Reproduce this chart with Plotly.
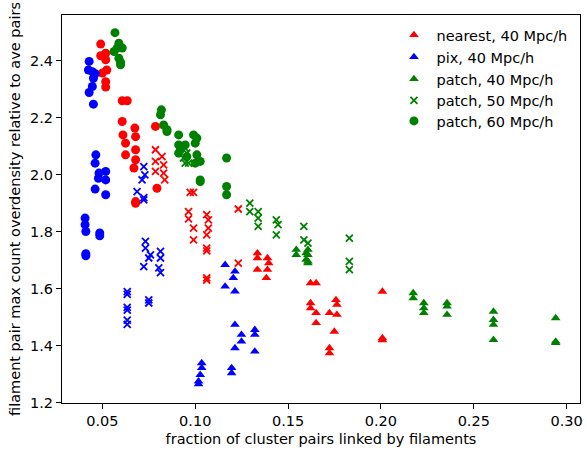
import plotly.graph_objects as go

# fraction of cluster pairs linked by filaments (x) vs. max count overdensity (y)
nearest40_x = [0.1335, 0.1335, 0.1389, 0.1396, 0.1335, 0.1389, 0.1383, 0.1621, 0.1651, 0.1621, 0.1621, 0.1651,
               0.1651, 0.1723, 0.1758, 0.1763, 0.1763, 0.1749, 0.1723, 0.1723, 0.2008, 0.2008, 0.2008]
nearest40_y = [1.725, 1.708, 1.708, 1.690, 1.667, 1.667, 1.638, 1.620, 1.620, 1.550, 1.532, 1.515,
               1.480, 1.515, 1.561, 1.544, 1.509, 1.450, 1.392, 1.374, 1.590, 1.427, 1.420]

nearest50_x = [0.0786, 0.0821, 0.0786, 0.0830, 0.0786, 0.0830, 0.0836, 0.0973, 0.0991, 0.0964, 0.0964, 0.0991,
               0.0991, 0.1062, 0.1071, 0.1071, 0.1062, 0.1062, 0.1062, 0.1062, 0.1062, 0.1232, 0.1232]
nearest50_y = [2.088, 2.064, 2.047, 2.035, 2.012, 2.006, 1.982, 1.938, 1.938, 1.871, 1.845, 1.813,
               1.772, 1.860, 1.842, 1.813, 1.789, 1.743, 1.733, 1.638, 1.630, 1.880, 1.690]

nearest60_x = [0.0491, 0.0491, 0.0518, 0.0518, 0.0524, 0.0500, 0.0518, 0.0518, 0.0607, 0.0634, 0.0607, 0.0675,
               0.0611, 0.0679, 0.0786, 0.0625, 0.0679, 0.0625, 0.0679, 0.0670, 0.0794, 0.0679, 0.0679]
nearest60_y = [2.459, 2.418, 2.427, 2.404, 2.368, 2.357, 2.327, 2.308, 2.260, 2.260, 2.187, 2.164,
               2.140, 2.134, 2.170, 2.111, 2.088, 2.070, 2.053, 2.024, 1.953, 1.906, 1.900]

pix40_x = [0.1161, 0.1214, 0.1205, 0.1161, 0.1214, 0.1214, 0.1249, 0.1249, 0.1214, 0.1321, 0.1321, 0.1321,
           0.1035, 0.1035, 0.1027, 0.1018, 0.1018, 0.1196, 0.1196]
pix40_y = [1.684, 1.661, 1.638, 1.608, 1.591, 1.474, 1.439, 1.415, 1.392, 1.456, 1.439, 1.380,
           1.339, 1.322, 1.298, 1.275, 1.265, 1.322, 1.304]

pix50_x = [0.0723, 0.0729, 0.0714, 0.0687, 0.0723, 0.0723, 0.0732, 0.0732, 0.0759, 0.0750, 0.0813, 0.0813,
           0.0723, 0.0804, 0.0813, 0.0634, 0.0634, 0.0634, 0.0634, 0.0634, 0.0634, 0.0750, 0.0750]
pix50_y = [2.029, 2.000, 1.982, 1.941, 1.912, 1.920, 1.766, 1.743, 1.719, 1.708, 1.731, 1.708,
           1.678, 1.673, 1.657, 1.590, 1.580, 1.535, 1.525, 1.490, 1.475, 1.561, 1.550]

pix60_x = [0.0429, 0.0425, 0.0446, 0.0462, 0.0452, 0.0446, 0.0429, 0.0452, 0.0465, 0.0461, 0.0482, 0.0518,
           0.0479, 0.0518, 0.0461, 0.0518, 0.0407, 0.0407, 0.0411, 0.0486, 0.0486, 0.0411, 0.0411]
pix60_y = [2.398, 2.368, 2.362, 2.355, 2.339, 2.310, 2.289, 2.248, 2.070, 2.041, 2.006, 2.012,
           1.988, 1.982, 1.950, 1.930, 1.848, 1.825, 1.801, 1.786, 1.796, 1.723, 1.716]

patch40_x = [0.1544, 0.1544, 0.1597, 0.1597, 0.1607, 0.1607, 0.1607, 0.1607, 0.2174, 0.2174, 0.2231, 0.2231,
             0.2231, 0.2356, 0.2356, 0.2356, 0.2606, 0.2606, 0.2606, 0.2606, 0.2941, 0.2941, 0.2941]
patch40_y = [1.737, 1.719, 1.725, 1.702, 1.690, 1.737, 1.719, 1.696, 1.585, 1.567, 1.550, 1.532,
             1.515, 1.550, 1.538, 1.509, 1.520, 1.491, 1.474, 1.421, 1.497, 1.415, 1.410]

patch50_x = [0.0946, 0.0955, 0.0937, 0.0946, 0.0964, 0.1294, 0.1294, 0.1339, 0.1339, 0.1339, 0.1437, 0.1446,
             0.1437, 0.1585, 0.1585, 0.1607, 0.1830, 0.1830, 0.1830]
patch50_y = [2.094, 2.076, 2.059, 2.041, 2.041, 1.901, 1.871, 1.871, 1.848, 1.819, 1.842, 1.825,
             1.789, 1.819, 1.772, 1.760, 1.778, 1.696, 1.667]

patch60_x = [0.0568, 0.0589, 0.0580, 0.0607, 0.0563, 0.0589, 0.0598, 0.0598, 0.0818, 0.0813, 0.0830, 0.0848,
             0.0848, 0.0911, 0.0991, 0.0911, 0.0946, 0.1000, 0.1009, 0.0911, 0.0955, 0.1009, 0.1027, 0.1000,
             0.1169, 0.1027, 0.1027, 0.1169, 0.1169, 0.0920]
patch60_y = [2.499, 2.462, 2.445, 2.445, 2.433, 2.409, 2.386, 2.395, 2.228, 2.211, 2.175, 2.158,
             2.152, 2.140, 2.140, 2.105, 2.105, 2.111, 2.129, 2.076, 2.064, 2.070, 2.047, 2.041,
             2.059, 1.976, 1.982, 1.959, 1.930, 2.088]

RED, BLUE, GREEN = "#ff0000", "#0000ff", "#008000"
FONT_SIZE = 14.5

series = [
    # (x, y, colour, symbol, legend name or None)
    (nearest60_x, nearest60_y, RED, "circle", None),
    (pix60_x, pix60_y, BLUE, "circle", None),
    (nearest50_x, nearest50_y, RED, "x", None),
    (pix50_x, pix50_y, BLUE, "x", None),
    (nearest40_x, nearest40_y, RED, "triangle-up", "nearest, 40 Mpc/h"),
    (pix40_x, pix40_y, BLUE, "triangle-up", "pix, 40 Mpc/h"),
    (patch40_x, patch40_y, GREEN, "triangle-up", "patch, 40 Mpc/h"),
    (patch50_x, patch50_y, GREEN, "x", "patch, 50 Mpc/h"),
    (patch60_x, patch60_y, GREEN, "circle", "patch, 60 Mpc/h"),
]

# one single-entry legend per labelled series, stacked in the upper right
legend_ids = ["legend", "legend2", "legend3", "legend4", "legend5"]
legend_rows_px = [35, 57, 79, 100.5, 121]   # row centres, pixels from the top of the figure
PLOT_TOP, PLOT_BOTTOM = 15, 403

fig = go.Figure()
k = 0
for i, (xs, ys, col, sym, name) in enumerate(series):
    if sym == "x":
        marker = dict(symbol="x-thin-open", size=7, color=col, line=dict(color=col, width=1.8))
    elif sym == "circle":
        marker = dict(symbol="circle", size=9, color=col, line=dict(width=0))
    else:
        marker = dict(symbol="triangle-up", size=8.5, color=col, line=dict(width=0))
    kw = {}
    if name is not None:
        kw["legend"] = legend_ids[k]
        k += 1
    fig.add_trace(go.Scatter(
        x=xs, y=ys, mode="markers", marker=marker,
        name=name if name else f"s{i}",
        showlegend=name is not None,
        **kw,
    ))

axis_common = dict(
    showline=True, linecolor="black", linewidth=1, mirror=True,
    ticks="outside", ticklen=5, tickwidth=1, tickcolor="black",
    showgrid=False, zeroline=False,
    tickfont=dict(size=FONT_SIZE, color="black"),
)

legend_layout = {}
for lid, row in zip(legend_ids, legend_rows_px):
    legend_layout[lid] = dict(
        x=0.636, y=(PLOT_BOTTOM - row) / (PLOT_BOTTOM - PLOT_TOP),
        xanchor="left", yanchor="middle",
        bgcolor="rgba(0,0,0,0)", borderwidth=0, itemwidth=35,
        font=dict(size=FONT_SIZE, color="black"),
    )

fig.update_layout(
    width=587, height=452,
    margin=dict(l=62, r=4, t=PLOT_TOP, b=452 - PLOT_BOTTOM),
    paper_bgcolor="white", plot_bgcolor="white",
    font=dict(family="DejaVu Sans", size=FONT_SIZE, color="black"),
    xaxis=dict(range=[0.02827, 0.3072], tickvals=[0.05, 0.10, 0.15, 0.20, 0.25, 0.30],
               tickformat=".2f",
               title=dict(text="fraction of cluster pairs linked by filaments", standoff=5,
                          font=dict(size=FONT_SIZE)),
               **axis_common),
    yaxis=dict(range=[1.199, 2.561], tickvals=[1.2, 1.4, 1.6, 1.8, 2.0, 2.2, 2.4],
               tickformat=".1f",
               title=dict(text="filament pair max count overdensity relative to ave pairs", standoff=5,
                          font=dict(size=FONT_SIZE)),
               **axis_common),
    **legend_layout,
)

fig.write_html("out.html")
